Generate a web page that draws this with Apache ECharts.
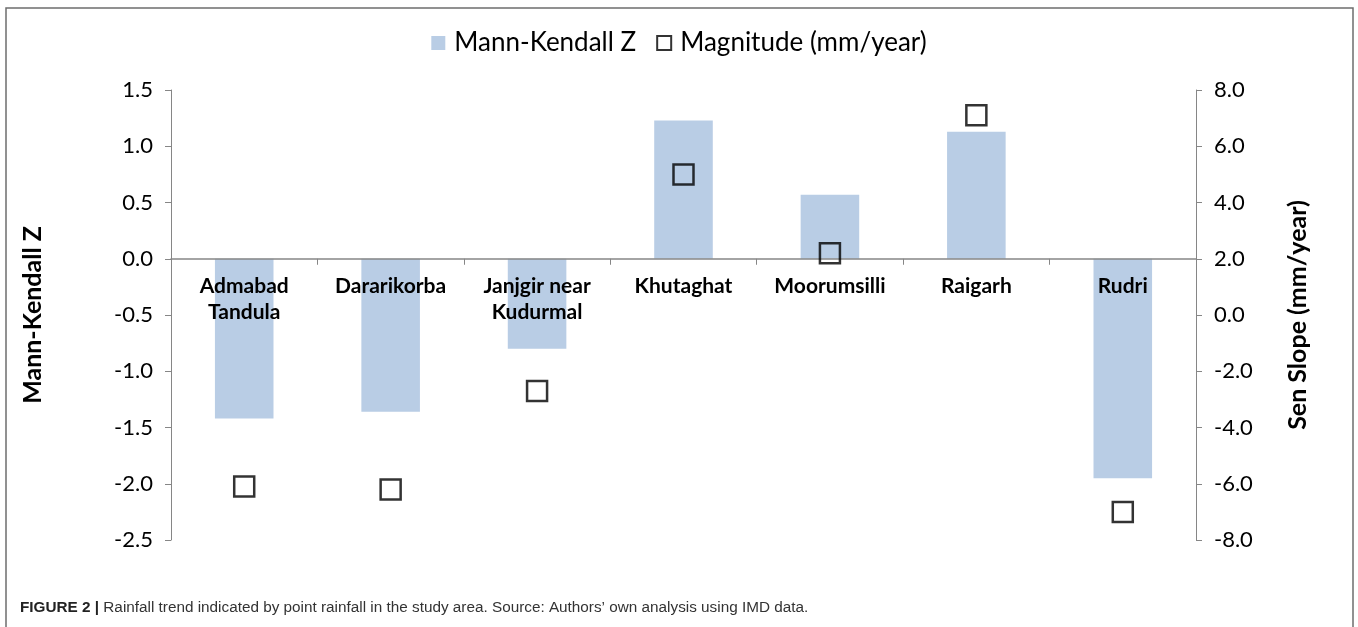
<!DOCTYPE html>
<html>
<head>
<meta charset="utf-8">
<script src="https://cdn.jsdelivr.net/npm/echarts@6/dist/echarts.min.js"></script>
<style>
  html, body { margin: 0; padding: 0; background: #fff; }
  #chart { width: 1358px; height: 627px; }
</style>
</head>
<body>
<div id="chart"></div>
<script>
// stations along the x axis
const stations = ['Admabad\nTandula', 'Dararikorba', 'Janjgir near\nKudurmal', 'Khutaghat', 'Moorumsilli', 'Raigarh', 'Rudri'];
// Mann-Kendall Z (left axis)
const mannKendallZ = [-1.42, -1.36, -0.80, 1.23, 0.57, 1.13, -1.95];
// Sen slope magnitude, mm/year (right axis)
const magnitude = [-6.1, -6.2, -2.7, 5.0, 2.2, 7.1, -7.0];
// axis ranges
const zMin = -2.5, zMax = 1.5, zStep = 0.5;
const sMin = -8, sMax = 8, sStep = 2;

const chart = echarts.init(document.getElementById('chart'));
const font = 'Lato, "Open Sans", sans-serif';
const capFont = '"Liberation Sans Narrow", "Liberation Sans", sans-serif';

const gridTop = 90, gridBottom = 87;
const plotH = 627 - gridTop - gridBottom;
// move the category axis (line + labels) up to the zero line, like Excel does
const zeroOffset = -plotH * (0 - zMin) / (zMax - zMin);

const option = {
  animation: false,
  textStyle: { fontFamily: font },
  legend: {
    top: 25,
    left: 'center',
    itemGap: 20,
    itemWidth: 14,
    itemHeight: 14,
    textStyle: { fontSize: 26, color: '#000', fontFamily: font, padding: [0, 0, 0, 4] },
    data: [
      { name: 'Mann-Kendall Z', icon: 'rect' },
      { name: 'Magnitude (mm/year)', icon: 'rect' }
    ]
  },
  grid: { left: 171, right: 162, top: gridTop, bottom: gridBottom },
  xAxis: {
    type: 'category',
    data: stations,
    offset: zeroOffset,
    z: 10,
    axisLine: { onZero: false, lineStyle: { color: '#868686', width: 1.5 } },
    axisTick: { show: true, length: 6, lineStyle: { color: '#868686' } },
    axisLabel: {
      interval: 0,
      showMinLabel: true,
      showMaxLabel: true,
      hideOverlap: false,
      margin: 14,
      fontSize: 21,
      fontWeight: 'bold',
      color: '#000',
      lineHeight: 26
    }
  },
  yAxis: [
    {
      type: 'value',
      min: zMin,
      max: zMax,
      interval: zStep,
      name: 'Mann-Kendall Z',
      nameLocation: 'middle',
      nameRotate: 90,
      nameGap: 126,
      nameTextStyle: { fontSize: 25, fontWeight: 'bold', color: '#000' },
      splitLine: { show: false },
      axisLine: { show: true, lineStyle: { color: '#868686' } },
      axisTick: { show: true, length: 6, lineStyle: { color: '#868686' } },
      axisLabel: { fontSize: 22, color: '#000', margin: 18, formatter: v => v.toFixed(1) }
    },
    {
      type: 'value',
      min: sMin,
      max: sMax,
      interval: sStep,
      name: 'Sen Slope (mm/year)',
      nameLocation: 'middle',
      nameRotate: 90,
      nameGap: 114,
      nameTextStyle: { fontSize: 25, fontWeight: 'bold', color: '#000', verticalAlign: 'bottom' },
      splitLine: { show: false },
      axisLine: { show: true, lineStyle: { color: '#868686' } },
      axisTick: { show: true, length: 6, lineStyle: { color: '#868686' } },
      axisLabel: { fontSize: 22, color: '#000', margin: 18, formatter: v => v.toFixed(1) }
    }
  ],
  series: [
    {
      name: 'Mann-Kendall Z',
      type: 'bar',
      yAxisIndex: 0,
      barWidth: '40%',
      z: 1,
      itemStyle: { color: '#b9cde5' },
      data: mannKendallZ
    },
    {
      name: 'Magnitude (mm/year)',
      type: 'scatter',
      yAxisIndex: 1,
      symbol: 'rect',
      symbolSize: 20,
      z: 12,
      itemStyle: { color: 'rgba(255,255,255,0)', borderColor: '#000', borderWidth: 2.5 },
      data: magnitude
    }
  ],
  graphic: [
    {
      type: 'rect',
      shape: { x: 6, y: 8, width: 1347, height: 640 },
      style: { fill: 'none', stroke: '#6d6d6d', lineWidth: 1.5 },
      silent: true
    },
    {
      type: 'text',
      left: 20,
      top: 600,
      style: {
        text: '{b|FIGURE 2 |} Rainfall trend indicated by point rainfall in the study area. Source: Authors\u2019 own analysis using IMD data.',
        rich: {
          b: { fontWeight: 'bold', fontSize: 15.3, fill: '#222', fontFamily: capFont }
        },
        fontSize: 15.3,
        fill: '#333',
        fontFamily: capFont
      }
    }
  ]
};

chart.setOption(option);
window.addEventListener('resize', () => chart.resize());
</script>
</body>
</html>
